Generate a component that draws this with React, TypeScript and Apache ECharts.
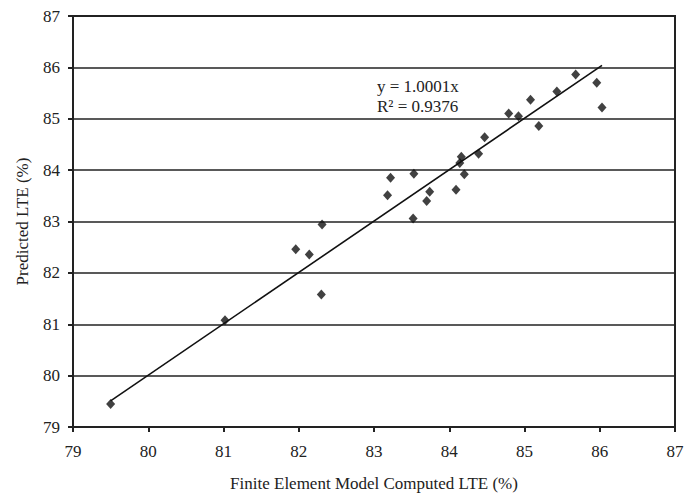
import React, { useEffect, useRef } from "react";
import * as echarts from "echarts";

const xAxisTitle = "Finite Element Model Computed LTE (%)";
const yAxisTitle = "Predicted LTE (%)";
const equationLines = ["y = 1.0001x", "R² = 0.9376"];

const feComputed = [
  79.5, 81.02, 81.96, 82.14, 82.3, 82.31, 83.18, 83.22, 83.52, 83.53,
  83.7, 83.74, 84.09, 84.14, 84.16, 84.2, 84.39, 84.47, 84.79, 84.92,
  85.08, 85.19, 85.43, 85.68, 85.96, 86.03,
];
const predicted = [
  79.45, 81.08, 82.46, 82.36, 81.58, 82.94, 83.51, 83.85, 83.06, 83.93,
  83.4, 83.58, 83.62, 84.14, 84.26, 83.92, 84.32, 84.64, 85.1, 85.05,
  85.37, 84.86, 85.53, 85.86, 85.7, 85.22,
];
const trendSlope = 1.0001;
const trendX = [79.5, 86.03];

const FONT = "'Liberation Serif', 'Times New Roman', serif";

export default function App() {
  const ref = useRef<HTMLDivElement>(null);
  useEffect(() => {
    if (!ref.current) return;
    const chart = echarts.init(ref.current, null, { renderer: "svg" });
    const scatterData = feComputed.map((x, i) => [x, predicted[i]]);
    const trendData = trendX.map((x) => [x, trendSlope * x]);
    chart.setOption({
      animation: false,
      backgroundColor: "#ffffff",
      grid: {
        left: 73,
        right: 21,
        top: 16,
        bottom: 71,
        show: true,
        borderColor: "#222",
        borderWidth: 2,
        containLabel: false,
      },
      xAxis: {
        type: "value",
        min: 79,
        max: 87,
        interval: 1,
        name: xAxisTitle,
        nameLocation: "middle",
        nameGap: 48,
        nameTextStyle: { fontFamily: FONT, fontSize: 17, color: "#222" },
        axisLine: { show: true, onZero: false, lineStyle: { color: "#222", width: 2 } },
        axisTick: { show: true, inside: false, length: 5, lineStyle: { color: "#222", width: 2 } },
        axisLabel: { fontFamily: FONT, fontSize: 17, color: "#222", margin: 16 },
        splitLine: { show: false },
      },
      yAxis: {
        type: "value",
        min: 79,
        max: 87,
        interval: 1,
        name: yAxisTitle,
        nameLocation: "middle",
        nameGap: 42,
        nameRotate: 90,
        nameTextStyle: { fontFamily: FONT, fontSize: 17, color: "#222" },
        axisLine: { show: true, onZero: false, lineStyle: { color: "#222", width: 2 } },
        axisTick: { show: true, inside: false, length: 5, lineStyle: { color: "#222", width: 2 } },
        axisLabel: { fontFamily: FONT, fontSize: 17, color: "#222", margin: 13 },
        splitLine: { show: true, lineStyle: { color: "#222", width: 1.6 } },
      },
      graphic: [
        {
          type: "text",
          left: 377,
          top: 76,
          style: {
            text: equationLines.join("\n"),
            fontFamily: FONT,
            fontSize: 17,
            lineHeight: 20,
            fill: "#222",
          },
        },
      ],
      series: [
        {
          type: "line",
          data: trendData,
          showSymbol: false,
          symbol: "none",
          lineStyle: { color: "#111", width: 1.6 },
          z: 2,
          silent: true,
        },
        {
          type: "scatter",
          data: scatterData,
          symbol: "diamond",
          symbolSize: [9, 10],
          itemStyle: { color: "#111" },
          z: 3,
        },
      ],
    });
    return () => chart.dispose();
  }, []);
  return (
    <div
      ref={ref}
      style={{ position: "fixed", left: 0, top: 0, width: 696, height: 498, background: "#fff" }}
    />
  );
}
